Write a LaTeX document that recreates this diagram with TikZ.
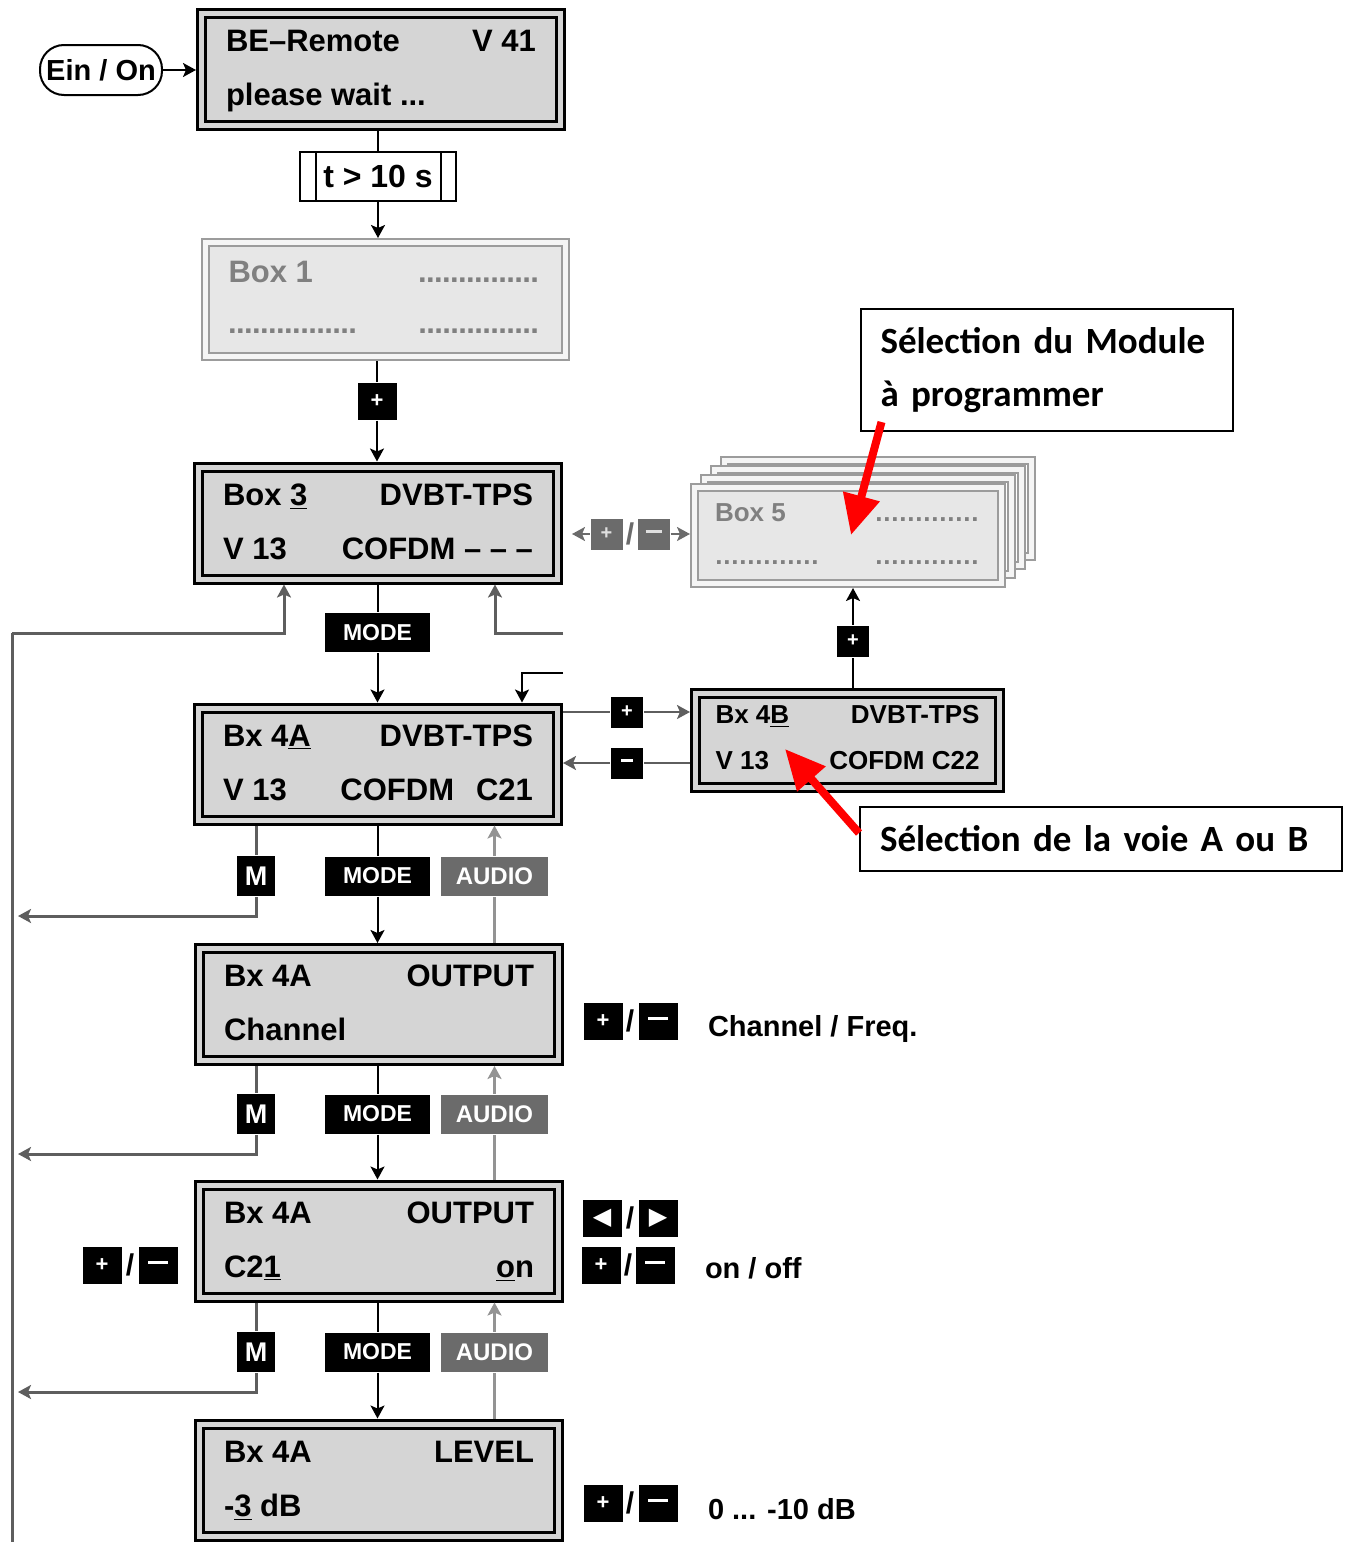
\documentclass[tikz,border=0pt]{standalone}
\usepackage{fontspec}
\setmainfont{Liberation Sans}
\newfontfamily\calfont{Carlito}
\newfontfamily\symfont{DejaVu Sans}
\usetikzlibrary{arrows.meta,calc}

\definecolor{lcdgray}{HTML}{D5D5D5}
\definecolor{palegray}{HTML}{E7E7E7}
\definecolor{rimgray}{HTML}{9C9C9C}
\definecolor{keygray}{HTML}{6B6B6B}
\definecolor{wiregray}{HTML}{5E5E5E}
\definecolor{callred}{HTML}{FF0000}

% two text lines of a display: height, width, first baseline, line skip, then the four texts
\newcommand{\lcdlines}[8]{\parbox[c][#1][t]{#2}{\baselineskip=#4\rule{0pt}{#3}#5\hfill#6\par#7\hfill#8}}
\newcommand{\lcdrows}{\lcdlines{56pt}{155pt}{19pt}{27pt}}
\newcommand{\minirows}{\lcdlines{47pt}{132pt}{15pt}{23pt}}
\newcommand{\dotsrun}[1]{\makebox[#1]{\leaders\hbox to 4pt{\hss.\hss}\hfill}}
\newcommand{\minbar}[1]{\rule[2.6pt]{#1}{1.8pt}}

\tikzset{
  >={Stealth[length=6.5pt,width=7pt,inset=1.5pt]},
  lcd/.style={draw=black, line width=1.5pt, double=lcdgray, double distance=2.5pt,
    fill=lcdgray, inner sep=0pt, outer sep=2.75pt, font=\bfseries\fontsize{15.5}{18}\selectfont,
    minimum width=179.5pt, minimum height=56pt},
  lcdmini/.style={lcd, font=\bfseries\fontsize{13}{15}\selectfont, minimum width=152pt, minimum height=47pt},
  pale/.style={draw=rimgray, line width=1pt, double=white!92!gray, double distance=2.5pt,
    fill=palegray, inner sep=0pt, outer sep=2.25pt, text=gray, font=\bfseries\fontsize{15.5}{18}\selectfont},
  keybox/.style={fill=black, text=white, inner sep=0pt, font=\bfseries\fontsize{11.5}{12}\selectfont,
    minimum width=52.5pt, minimum height=19.5pt},
  audiokey/.style={keybox, fill=keygray, minimum width=53.5pt, font=\bfseries\fontsize{12}{12}\selectfont},
  mkey/.style={keybox, minimum width=19pt, minimum height=20pt, font=\bfseries\fontsize{13.5}{13}\selectfont},
  pmkey/.style={keybox, minimum width=16pt, minimum height=15.5pt, font=\bfseries\fontsize{10}{10}\selectfont},
  bigkey/.style={keybox, minimum width=19.5pt, minimum height=18.5pt, font=\bfseries\fontsize{11}{11}\selectfont},
  slashmark/.style={inner sep=0pt, font=\bfseries\fontsize{15}{15}\selectfont},
  notetext/.style={inner sep=0pt, font=\bfseries\fontsize{14.5}{16}\selectfont},
  wire/.style={draw=wiregray, line width=1.5pt},
  audioline/.style={draw=gray!85, line width=1.2pt},
  calloutbox/.style={draw, line width=1pt, inner xsep=10pt, align=left,
    font=\calfont\bfseries\fontsize{18.5}{26.5}\selectfont},
  redarrow/.style={draw=callred, line width=4pt, -{Triangle[length=20pt,width=18pt]}},
}

\begin{document}
\begin{tikzpicture}[x=0.5pt, y=-0.5pt, line width=1pt]
  \useasboundingbox (0,0) rectangle (1349,1542);

  % main column of displays
  \node[draw, line width=1pt, rounded corners=12pt, minimum width=61pt, minimum height=25pt,
    inner sep=0pt, font=\bfseries\fontsize{14.5}{14}\selectfont] (ein) at (101,70) {Ein / On};
  \node[lcd] (be) at (381,69) {\lcdrows{BE–Remote}{V 41}{please wait ...}{}};
  \node[draw, line width=1pt, minimum width=78pt, minimum height=24.5pt, inner sep=0pt,
    font=\bfseries\fontsize{16}{16}\selectfont] (tk) at (378,176.5) {t > 10 s};
  \draw ($(tk.north west)+(17,0)$) -- ($(tk.south west)+(17,0)$);
  \draw ($(tk.north east)+(-16,0)$) -- ($(tk.south east)+(-16,0)$);
  \node[pale, minimum width=180pt, minimum height=57pt] (box1) at (385.5,299.5)
    {\lcdlines{57pt}{157pt}{20pt}{25.5pt}{Box 1}{\dotsrun{62pt}}{\dotsrun{65pt}}{\dotsrun{62pt}}};
  \node[bigkey] (k1) at (377,401) {+};
  \node[lcd] (b3) at (378,523) {\lcdrows{Box \underline{3}}{DVBT-TPS}{V 13}{COFDM – – –}};
  \node[keybox] (mode) at (377.5,632.5) {MODE};
  \node[lcd] (b4a) at (378,764) {\lcdrows{Bx 4\underline{A}}{DVBT-TPS}{V 13}{COFDM\hspace{11pt}C21}};
  \node[lcd] (bch) at (379,1004.5) {\lcdrows{Bx 4A}{OUTPUT}{Channel}{}};
  \node[lcd] (bout) at (379,1241) {\lcdrows{Bx 4A}{OUTPUT}{C2\underline{1}}{\underline{o}n}};
  \node[lcd] (blev) at (379,1480) {\lcdrows{Bx 4A}{LEVEL}{-\underline{3} dB}{}};

  \draw[->] (ein.east) -- (ein.east -| be.west);
  \draw (be.south -| tk) -- (tk.north);
  \draw[->] (tk.south) -- (tk.south |- box1.north);
  \draw (box1.south -| k1) -- (k1.north);
  \draw[->] (k1.south) -- (k1.south |- b3.north);
  \draw (b3.south -| mode) -- (mode.north);
  \draw[->] (mode.south) -- (mode.south |- b4a.north);

  % module B and the other boxes
  \foreach \d in {3,2,1}
    \node[pale, fill=white, minimum width=153.5pt, minimum height=48pt] (back\d) at (848+10*\d,535.5-9*\d) {};
  \node[pale, minimum width=153.5pt, minimum height=48pt, font=\bfseries\fontsize{13}{15}\selectfont] (b5)
    at (848,535.5) {\lcdlines{48pt}{133pt}{17pt}{21.5pt}{Box 5}{\dotsrun{53pt}}{\dotsrun{54pt}}{\dotsrun{53pt}}};
  \node[lcdmini] (b4b) at (847.5,740.5) {\minirows{Bx 4\underline{B}}{DVBT-TPS}{V 13}{COFDM C22}};

  \node[pmkey] (kp2) at (627,712) {+};
  \node[pmkey] (km2) at (627,763) {\minbar{6pt}};
  \node[pmkey] (kp3) at (853,641) {+};
  \node[pmkey, fill=keygray, text=white!75!gray] (gp) at (606.5,534) {+};
  \node[slashmark, text=keygray] (gs) at (630,534) {/};
  \node[pmkey, fill=keygray, text=white!75!gray] (gm) at (653.5,534) {\minbar{8pt}};

  \draw[draw=wiregray] (b4a.east |- kp2) -- (kp2.west);
  \draw[draw=wiregray, ->] (kp2.east) -- (kp2.east -| b4b.west);
  \draw[draw=wiregray] (b4b.west |- km2) -- (km2.east);
  \draw[draw=wiregray, ->] (km2.west) -- (km2.west -| b4a.east);
  \draw (b4b.north -| kp3) -- (kp3.south);
  \draw[->] (kp3.north) -- (kp3.north |- b5.south);
  \draw[draw=keygray, ->] (gp.west) -- ($(b3.east |- gp)+(9,0)$);
  \draw[draw=keygray, ->] (gm.east) -- (gm.east -| b5.west);

  % return lines
  \coordinate (bus) at (12,633);
  \coordinate (busend) at (12,1542);
  \coordinate (from5) at (563,633);
  \coordinate (from4b) at (563,673);
  \draw[wire] (bus) -- (busend);
  \draw[wire, ->] (bus) -| ($(b3.south)+(-94,0)$);
  \draw[wire, ->] (from5) -| ($(b3.south)+(117,0)$);
  \draw[->] (from4b) -| ($(b4a.north)+(144,0)$);

  \foreach \i/\y/\up/\down in {1/876/b4a/bch, 2/1114/bch/bout, 3/1352/bout/blev} {
    \node[mkey] (m\i) at (256,\y) {M};
    \node[keybox] (md\i) at (377.5,\y) {MODE};
    \node[audiokey] (au\i) at (494.5,\y) {AUDIO};
    \coordinate (ret\i) at (18,\y+40);
    \draw[wire] (\up.south -| m\i) -- (m\i.north);
    \draw[wire, ->] (m\i.south) |- (ret\i);
    \draw (\up.south -| md\i) -- (md\i.north);
    \draw[->] (md\i.south) -- (md\i.south |- \down.north);
    \draw[audioline] (\down.north -| au\i) -- (au\i.south);
    \draw[audioline, ->] (au\i.north) -- (au\i.north |- \up.south);
  }

  % keys at the side
  \node[bigkey] (chp) at (603,1021) {+};
  \node[slashmark] (chs) at (630,1021) {/};
  \node[bigkey] (chm) at (658,1021) {\minbar{10pt}};
  \node[notetext, anchor=west] (chn) at (707,1029) {Channel / Freq.};

  \node[bigkey, font=\symfont\fontsize{12}{12}\selectfont] (lft) at (602,1218) {◀};
  \node[slashmark] (lrs) at (630,1218) {/};
  \node[bigkey, font=\symfont\fontsize{12}{12}\selectfont] (rgt) at (658,1218) {▶};
  \node[bigkey] (onp) at (601,1265) {+};
  \node[slashmark] (ons) at (628,1265) {/};
  \node[bigkey] (onm) at (655,1265) {\minbar{10pt}};
  \node[notetext, anchor=west] (onn) at (704,1268) {on / off};
  \node[bigkey] (lp) at (102,1265) {+};
  \node[slashmark] (ls) at (130,1265) {/};
  \node[bigkey] (lm) at (158,1265) {\minbar{10pt}};

  \node[bigkey] (dbp) at (603,1503) {+};
  \node[slashmark] (dbs) at (630,1503) {/};
  \node[bigkey] (dbm) at (658,1503) {\minbar{10pt}};
  \node[notetext, anchor=west] (dbn) at (707,1509) {0 ... -10 dB};

  % callouts
  \node[calloutbox, text width=166pt, minimum height=61pt] (sel1) at (1046.5,370) {Sélection du Module\\à programmer};
  \node[calloutbox, text width=221pt, minimum height=32pt] (sel2) at (1101,839) {Sélection de la voie A ou B};
  \coordinate (tip1) at (851,535);
  \coordinate (tip2) at (785,749);
  \draw[redarrow] ([xshift=11pt,yshift=5pt]sel1.south west) -- (tip1);
  \draw[redarrow] ([yshift=3pt]sel2.west) -- (tip2);
\end{tikzpicture}
\end{document}
